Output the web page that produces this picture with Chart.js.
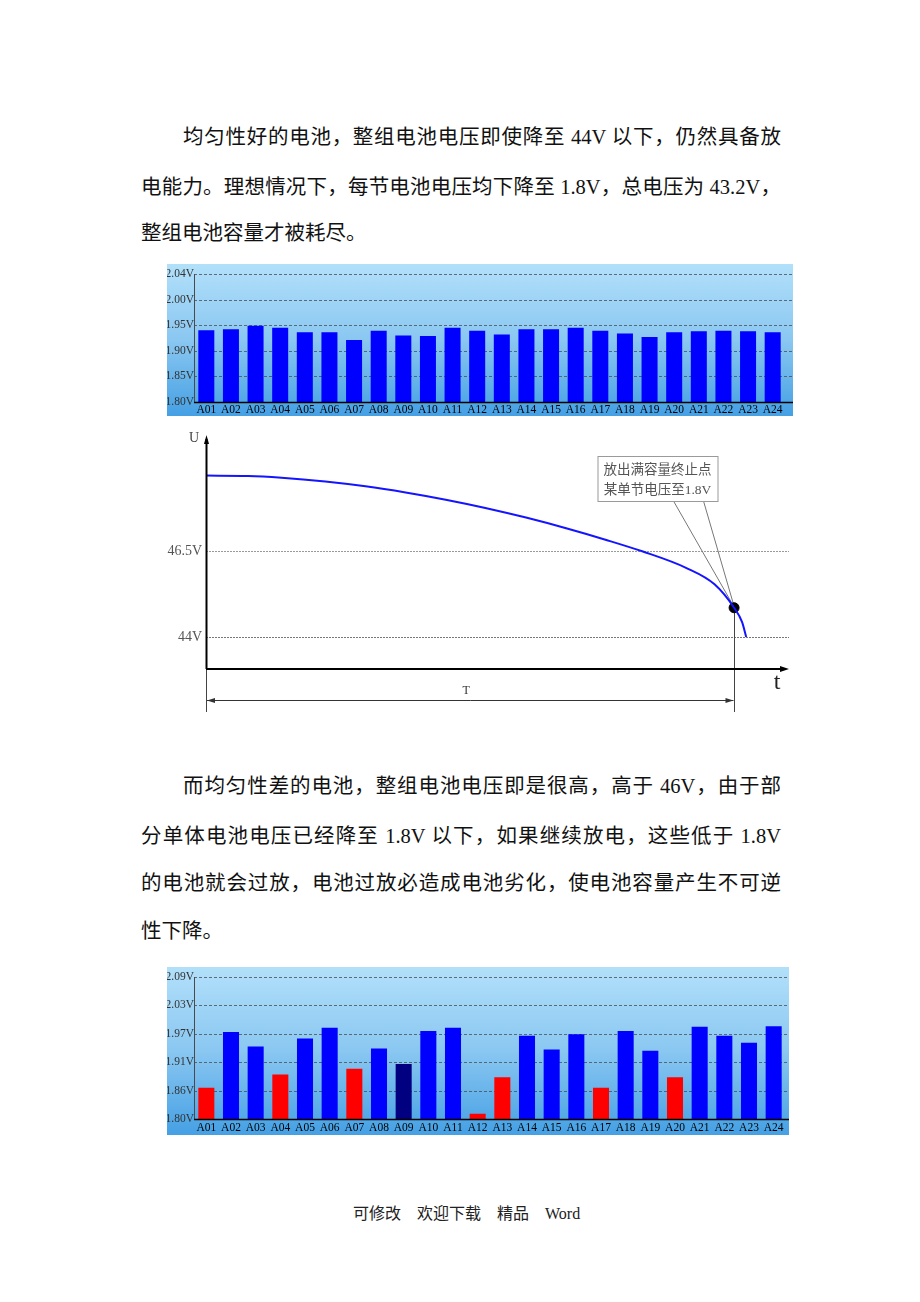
<!DOCTYPE html>
<html lang="zh-CN">
<head>
<meta charset="utf-8">
<title>电池均匀性</title>
<script src="https://cdn.jsdelivr.net/npm/chart.js@4.4.1/dist/chart.umd.min.js"></script>
<style>
  html, body { margin: 0; padding: 0; background: #fff; }
  #page { position: relative; width: 920px; height: 1302px; overflow: hidden; }
  .ln {
    position: absolute; height: 24px; line-height: 24px; font-size: 20.5px;
    font-family: "Liberation Serif", "Noto Sans CJK SC", serif; color: #111;
    white-space: nowrap; text-align: justify; text-align-last: justify;
  }
  .ln.last { text-align: left; text-align-last: left; }
  canvas { position: absolute; }
  #foot {
    position: absolute; left: 353px; top: 1204px; font-size: 16px; line-height: 20px;
    font-family: "Liberation Serif", "Noto Sans CJK SC", serif; color: #222; white-space: nowrap;
  }
</style>
</head>
<body>
<div id="page">
  <div class="ln" style="left:183px;top:125px;width:598px">均匀性好的电池，整组电池电压即使降至 44V 以下，仍然具备放</div>
  <div class="ln" style="left:141px;top:175px;width:640px">电能力。理想情况下，每节电池电压均下降至 1.8V，总电压为 43.2V，</div>
  <div class="ln last" style="left:141px;top:221px">整组电池容量才被耗尽。</div>

  <canvas id="evenChart" width="626" height="152" style="left:167px;top:264px"></canvas>
  <canvas id="curveChart" width="630" height="290" style="left:165px;top:425px"></canvas>

  <div class="ln" style="left:183px;top:774px;width:598px">而均匀性差的电池，整组电池电压即是很高，高于 46V，由于部</div>
  <div class="ln" style="left:141px;top:824px;width:640px">分单体电池电压已经降至 1.8V 以下，如果继续放电，这些低于 1.8V</div>
  <div class="ln" style="left:141px;top:871px;width:640px">的电池就会过放，电池过放必造成电池劣化，使电池容量产生不可逆</div>
  <div class="ln last" style="left:141px;top:919px">性下降。</div>

  <canvas id="unevenChart" width="622" height="168" style="left:167px;top:967px"></canvas>

  <div id="foot">可修改　欢迎下载　精品　Word</div>
</div>

<script>
const cells = ['A01', 'A02', 'A03', 'A04', 'A05', 'A06', 'A07', 'A08', 'A09', 'A10', 'A11', 'A12',
               'A13', 'A14', 'A15', 'A16', 'A17', 'A18', 'A19', 'A20', 'A21', 'A22', 'A23', 'A24'];

// good batch: every cell close to 1.94V
const evenVolts = [1.940, 1.942, 1.949, 1.945, 1.936, 1.936, 1.921, 1.939, 1.930, 1.929, 1.945, 1.939,
                   1.932, 1.942, 1.942, 1.945, 1.939, 1.934, 1.927, 1.936, 1.938, 1.939, 1.938, 1.936];
const evenTickLabels = ['1.80V', '1.85V', '1.90V', '1.95V', '2.00V', '2.04V'];

// bad batch: some cells already low
const unevenVolts = [1.866, 1.984, 1.953, 1.894, 1.970, 1.993, 1.906, 1.949, 1.916, 1.986, 1.993, 1.811,
                     1.888, 1.976, 1.947, 1.979, 1.866, 1.986, 1.944, 1.888, 1.995, 1.976, 1.961, 1.996];
const unevenTickLabels = ['1.80V', '1.86V', '1.91V', '1.97V', '2.03V', '2.09V'];

// discharge curve, t in % of T
const dischargeT = [0, 8, 14.3, 22.6, 30.2, 37.8, 45.4, 52.9, 60.6, 68.2, 75.8, 82.6, 90.9, 96.3, 100, 101.5, 102.3];
const dischargeU = [48.69, 48.68, 48.63, 48.52, 48.38, 48.20, 47.99, 47.75, 47.47, 47.16, 46.82, 46.49, 46.01, 45.53, 44.85, 44.44, 44.00];
const levelValues = [46.5, 44];
const levelLabels = ['46.5V', '44V'];
const endT = 100;
const endU = 44.85;
const noteLines = ['放出满容量终止点', '某单节电压至1.8V'];

const RED = '#ff0000', BLUE = '#0000ff', NAVY = '#000080';
const unevenColors = [RED, BLUE, BLUE, RED, BLUE, BLUE, RED, BLUE, NAVY, BLUE, BLUE, RED,
                      RED, BLUE, BLUE, BLUE, RED, BLUE, BLUE, RED, BLUE, BLUE, BLUE, BLUE];

Chart.defaults.animation = false;
Chart.defaults.font.family = '"Liberation Serif", "Noto Sans CJK SC", serif';

// blue gradient panel with dashed grid, like the monitor screenshots
const barBackdrop = {
  id: 'barBackdrop',
  beforeDraw(chart) {
    const { ctx, width, height, chartArea: a, scales: { y } } = chart;
    ctx.save();
    const g = ctx.createLinearGradient(0, 0, 0, height);
    g.addColorStop(0, '#b2e0fa');
    g.addColorStop(0.5, '#8ac7f1');
    g.addColorStop(1, '#45a0e4');
    ctx.fillStyle = g;
    ctx.fillRect(0, 0, width, height);
    ctx.strokeStyle = 'rgba(70, 80, 90, 0.8)';
    ctx.lineWidth = 1;
    ctx.setLineDash([3, 2]);
    y.ticks.slice(1).forEach(t => {
      const py = Math.round(y.getPixelForValue(t.value)) + 0.5;
      ctx.beginPath();
      ctx.moveTo(a.left, py);
      ctx.lineTo(width, py);
      ctx.stroke();
    });
    ctx.restore();
  },
  afterDatasetsDraw(chart) {
    const { ctx, width, chartArea: a } = chart;
    ctx.save();
    ctx.strokeStyle = '#4a4a4a';
    ctx.lineWidth = 1;
    ctx.beginPath();
    ctx.moveTo(a.left + 0.5, a.top);
    ctx.lineTo(a.left + 0.5, a.bottom);
    ctx.stroke();
    ctx.strokeStyle = '#000';
    ctx.lineWidth = 1.5;
    ctx.beginPath();
    ctx.moveTo(a.left, a.bottom + 0.5);
    ctx.lineTo(width, a.bottom + 0.5);
    ctx.stroke();
    ctx.restore();
  }
};

function makeBarChart(id, values, colors, yMin, yStep, yLabels, padRight, band, labelPad) {
  return new Chart(document.getElementById(id), {
    type: 'bar',
    data: {
      labels: cells,
      datasets: [{
        data: values,
        backgroundColor: colors,
        borderWidth: 0,
        barPercentage: 0.65,
        categoryPercentage: 1
      }]
    },
    options: {
      responsive: false,
      layout: { padding: { top: 10, right: padRight, left: 0, bottom: 0 } },
      plugins: { legend: { display: false }, tooltip: { enabled: false } },
      scales: {
        x: {
          grid: { display: false, drawTicks: false },
          border: { display: false },
          ticks: { color: '#000', font: { size: 11.5 }, padding: labelPad, maxRotation: 0, autoSkip: false },
          afterFit(s) { s.height = band; }
        },
        y: {
          min: yMin,
          max: yMin + yStep * (yLabels.length - 1),
          grid: { display: false, drawTicks: false },
          border: { display: false },
          afterBuildTicks(s) { s.ticks = yLabels.map((_, i) => ({ value: yMin + i * yStep })); },
          ticks: { callback: (v, i) => yLabels[i], color: '#333', font: { size: 11.5 }, padding: 0 },
          afterFit(s) { s.width = 27; }
        }
      }
    },
    plugins: [barBackdrop]
  });
}

const evenChart = makeBarChart('evenChart', evenVolts, BLUE, 1.80, 0.05, evenTickLabels, 8, 14, 1);
const unevenChart = makeBarChart('unevenChart', unevenVolts, unevenColors, 1.80, 0.06, unevenTickLabels, 3, 16, 2);

function seg(ctx, x1, y1, x2, y2) {
  ctx.beginPath();
  ctx.moveTo(x1, y1);
  ctx.lineTo(x2, y2);
  ctx.stroke();
}

function arrowHead(ctx, tx, ty, dx, dy, len, half) {
  // dx, dy: unit direction the arrow points to
  ctx.beginPath();
  ctx.moveTo(tx, ty);
  ctx.lineTo(tx - dx * len - dy * half, ty - dy * len + dx * half);
  ctx.lineTo(tx - dx * len + dy * half, ty - dy * len - dx * half);
  ctx.closePath();
  ctx.fill();
}

// axes, level lines, note box and T dimension for the U-t sketch
const dischargeSketch = {
  id: 'dischargeSketch',
  beforeDatasetsDraw(chart) {
    const { ctx, chartArea: a, scales: { x, y } } = chart;
    ctx.save();
    ctx.lineWidth = 1;
    ctx.font = '14px "Liberation Serif"';
    ctx.textAlign = 'right';
    ctx.textBaseline = 'middle';
    levelValues.forEach((v, i) => {
      const py = Math.round(y.getPixelForValue(v)) + 0.5;
      ctx.strokeStyle = i === 0 ? '#9a9a9a' : '#777';
      ctx.setLineDash([2, 1]);
      seg(ctx, a.left, py, a.right, py);
      ctx.fillStyle = '#555';
      ctx.fillText(levelLabels[i], a.left - 4, py);
    });
    ctx.setLineDash([]);

    const ex = Math.round(x.getPixelForValue(endT)) + 0.5;
    const ey = y.getPixelForValue(endU);

    // extension lines
    ctx.strokeStyle = '#444';
    seg(ctx, ex, ey, ex, a.bottom + 43);
    seg(ctx, a.left + 0.5, a.bottom, a.left + 0.5, a.bottom + 43);

    // T dimension
    const dy = a.bottom + 31.5;
    ctx.strokeStyle = '#333';
    ctx.fillStyle = '#333';
    seg(ctx, a.left + 1, dy, ex - 1, dy);
    arrowHead(ctx, a.left + 1, dy, -1, 0, 8, 2.5);
    arrowHead(ctx, ex - 1, dy, 1, 0, 8, 2.5);
    ctx.textAlign = 'center';
    ctx.font = '12px "Liberation Serif"';
    ctx.fillText('T', (a.left + ex) / 2 - 4, dy - 10);

    // note box with leader lines
    const bx = ex - 137, by = a.top + 21, bw = 120, bh = 45;
    ctx.strokeStyle = '#777';
    seg(ctx, bx + 76, by + bh, ex, ey);
    seg(ctx, bx + 106, by + bh, ex, ey);
    ctx.fillStyle = '#fff';
    ctx.fillRect(bx, by, bw, bh);
    ctx.strokeStyle = '#9a9a9a';
    ctx.strokeRect(bx + 0.5, by + 0.5, bw, bh);
    ctx.fillStyle = '#555';
    ctx.font = '13.5px "Noto Sans CJK SC", "Liberation Serif"';
    ctx.fillText(noteLines[0], bx + bw / 2, by + 13);
    ctx.font = '13.5px "Liberation Serif", "Noto Sans CJK SC"';
    ctx.fillText(noteLines[1], bx + bw / 2, by + 34);
    ctx.restore();
  },
  afterDatasetsDraw(chart) {
    const { ctx, chartArea: a } = chart;
    ctx.save();
    ctx.strokeStyle = '#000';
    ctx.fillStyle = '#000';
    ctx.lineWidth = 2;
    seg(ctx, a.left + 0.5, a.bottom, a.left + 0.5, a.top + 4);
    arrowHead(ctx, a.left + 0.5, a.top, 0, -1, 9, 2.5);
    seg(ctx, a.left, a.bottom, a.right - 4, a.bottom);
    arrowHead(ctx, a.right, a.bottom, 1, 0, 9, 3);

    ctx.fillStyle = '#444';
    ctx.textAlign = 'center';
    ctx.textBaseline = 'middle';
    ctx.font = '14px "Liberation Serif"';
    ctx.fillText('U', a.left - 12, a.top + 3);
    ctx.fillStyle = '#222';
    ctx.font = '24px "Liberation Serif"';
    ctx.fillText('t', a.right - 12, a.bottom + 14);
    ctx.restore();
  }
};

const curveChart = new Chart(document.getElementById('curveChart'), {
  type: 'line',
  data: {
    datasets: [{
      data: dischargeT.map((t, i) => ({ x: t, y: dischargeU[i] })),
      borderColor: '#1414ff',
      borderWidth: 2,
      pointRadius: 0,
      cubicInterpolationMode: 'monotone',
      fill: false
    }, {
      data: [{ x: endT, y: endU }],
      showLine: false,
      pointRadius: 5,
      pointBackgroundColor: '#000',
      pointBorderColor: '#000'
    }]
  },
  options: {
    responsive: false,
    layout: { padding: { left: 41, right: 5, top: 10, bottom: 46 } },
    plugins: { legend: { display: false }, tooltip: { enabled: false } },
    scales: {
      x: { type: 'linear', display: false, min: 0, max: 110.4 },
      y: { display: false, min: 43.07, max: 49.87 }
    }
  },
  plugins: [dischargeSketch]
});
</script>
</body>
</html>
